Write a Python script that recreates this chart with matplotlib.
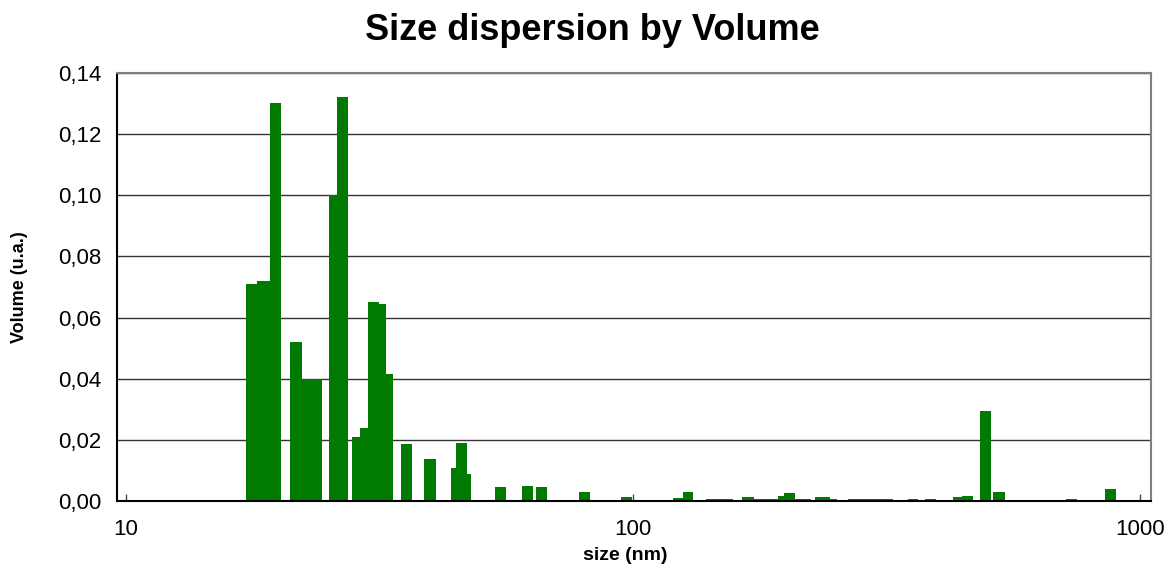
import matplotlib
matplotlib.use("Agg")
import matplotlib.pyplot as plt
from matplotlib.ticker import FixedLocator, NullLocator, FuncFormatter

plt.rcParams['font.family'] = ['Liberation Sans', 'DejaVu Sans']

# Histogram bins (size in nm) and volume values
bin_left = [17.24, 18.13, 19.23, 21.06, 22.24, 23.27, 25.14, 26.08, 27.91, 28.94,
            30.02, 31.55, 32.57, 34.87, 38.71, 43.75, 44.76, 47.05, 53.44, 60.40,
            64.38, 78.25, 94.69, 119.9, 125.5, 139.3, 148.1, 164.1, 173.3, 183.0,
            193.2, 198.5, 208.7, 228.6, 244.7, 252.6, 265.6, 283.0, 305.0, 327.2,
            348.7, 376.7, 427.8, 445.6, 483.5, 513.0, 714.5, 853.1]
bin_right = [18.13, 19.23, 20.21, 22.24, 23.27, 24.36, 26.08, 27.41, 28.94, 30.02,
             31.55, 32.57, 33.63, 36.66, 40.88, 44.76, 47.05, 47.92, 56.17, 63.50,
             67.67, 82.27, 99.55, 125.5, 131.3, 148.1, 157.5, 173.3, 183.0, 193.2,
             198.5, 208.7, 224.4, 244.7, 252.6, 265.6, 283.0, 305.0, 325.7, 347.1,
             364.9, 395.9, 445.6, 468.4, 508.3, 541.6, 751.1, 896.9]
volume = [0.0709, 0.0720, 0.1302, 0.0520, 0.0399, 0.0399, 0.1002, 0.1320, 0.0210, 0.0238,
          0.0650, 0.0643, 0.0415, 0.0185, 0.0136, 0.0108, 0.0189, 0.0088, 0.0046, 0.0049,
          0.0046, 0.0029, 0.0014, 0.0010, 0.0029, 0.0008, 0.0008, 0.0014, 0.0008, 0.0008,
          0.0016, 0.0025, 0.0005, 0.0014, 0.0005, 0.0003, 0.0005, 0.0005, 0.0005, 0.0004,
          0.0005, 0.0005, 0.0014, 0.0017, 0.0294, 0.0030, 0.0005, 0.0039]

x_ticks = [10, 100, 1000]
x_tick_labels = ["10", "100", "1000"]
y_ticks = [0.00, 0.02, 0.04, 0.06, 0.08, 0.10, 0.12, 0.14]

fig = plt.figure(figsize=(11.68, 5.66), dpi=100)
ax = fig.add_axes([117/1168, 1 - 501/566, (1151 - 117)/1168, (501 - 73)/566])

widths = [r - l for l, r in zip(bin_left, bin_right)]
ax.bar(bin_left, volume, width=widths, align='edge', color='#007a00',
       linewidth=0, zorder=3)

ax.set_xscale('log')
ax.set_xlim(9.6, 1051)
ax.set_ylim(0, 0.14)

ax.xaxis.set_major_locator(FixedLocator(x_ticks))
ax.xaxis.set_minor_locator(NullLocator())
ax.set_xticklabels(x_tick_labels)
ax.tick_params(axis='x', direction='in', length=5, width=1, color='#444444',
               labelsize=16, pad=13)

ax.yaxis.set_major_locator(FixedLocator(y_ticks))
ax.yaxis.set_major_formatter(FuncFormatter(lambda v, p: f"{v:.2f}".replace('.', ',')))
ax.tick_params(axis='y', length=0, labelsize=16, pad=11)

ax.grid(axis='y', color='#333333', linewidth=1, zorder=1)
ax.set_axisbelow(True)

for side in ['left', 'bottom']:
    ax.spines[side].set_color('black')
    ax.spines[side].set_linewidth(1.5)
for side in ['top', 'right']:
    ax.spines[side].set_color('#808080')
    ax.spines[side].set_linewidth(1.5)
ax.spines['bottom'].set_zorder(5)

fig.text(592/1168, 1 - 30/566, "Size dispersion by Volume", ha='center', va='center',
         fontsize=26, fontweight='bold')
fig.text(20/1168, 1 - 287/566, "Volume (u.a.)", ha='center', va='center',
         rotation=90, fontsize=13, fontweight='bold')
fig.text(625/1168, 1 - 556/566, "size (nm)", ha='center', va='center',
         fontsize=14, fontweight='bold')

fig.savefig("out.png", dpi=100)
